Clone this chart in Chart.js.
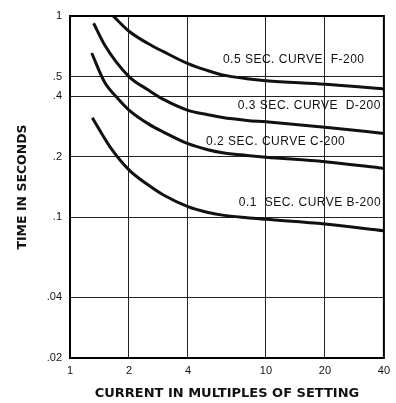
<!DOCTYPE html>
<html>
<head>
<meta charset="utf-8">
<script src="https://cdn.jsdelivr.net/npm/chart.js@4.4.1/dist/chart.umd.min.js"></script>
<style>
  html, body { margin: 0; padding: 0; background: #fff; }
  #wrap { width: 396px; height: 403px; }
</style>
</head>
<body>
<div id="wrap"><canvas id="curves" width="396" height="403"></canvas></div>
<script>
// Values (current in multiples of setting vs time in seconds)
const currentF = [1.66, 2, 2.5, 3, 4, 5, 6, 8, 10, 20, 40];
const timeF = [1.0, 0.84, 0.73, 0.665, 0.58, 0.537, 0.51, 0.488, 0.477, 0.458, 0.434];

const currentD = [1.32, 1.5, 2, 2.5, 3, 4, 5, 6, 8, 10, 20, 40];
const timeD = [0.92, 0.72, 0.5, 0.43, 0.385, 0.34, 0.324, 0.313, 0.303, 0.298, 0.28, 0.261];

const currentC = [1.29, 1.5, 1.75, 2, 2.5, 3, 4, 5, 6, 8, 10, 20, 40];
const timeC = [0.655, 0.47, 0.39, 0.341, 0.292, 0.265, 0.232, 0.217, 0.209, 0.203, 0.199, 0.189, 0.175];

const currentB = [1.3, 1.45, 1.6, 2, 2.5, 3, 4, 5, 6, 8, 10, 20, 40];
const timeB = [0.312, 0.261, 0.224, 0.172, 0.145, 0.129, 0.113, 0.106, 0.1025, 0.0995, 0.0977, 0.0926, 0.0858];

const curveLabels = ['0.5 SEC. CURVE  F-200', '0.3 SEC. CURVE  D-200', '0.2 SEC. CURVE C-200', '0.1  SEC. CURVE B-200'];

const xTicks = [1, 2, 4, 10, 20, 40];
const xTickLabels = ['1', '2', '4', '10', '20', '40'];
const yTicks = [0.02, 0.04, 0.1, 0.2, 0.4, 0.5, 1];
const yTickLabels = ['.02', '.04', '.1', '.2', '.4', '.5', '1'];

function toPoints(xs, ys) {
    return xs.map((x, i) => ({ x: x, y: ys[i] }));
}

function curve(label, xs, ys) {
    return {
        label: label,
        data: toPoints(xs, ys),
        borderColor: '#111',
        borderWidth: 3,
        pointRadius: 0,
        fill: false,
        cubicInterpolationMode: 'monotone'
    };
}

// Curve captions, anchored in data space (left edge, vertical middle)
const captionPlugin = {
    id: 'captions',
    afterDatasetsDraw(chart) {
        const ctx = chart.ctx;
        const xs = chart.scales.x, ys = chart.scales.y;
        const anchors = [[6.03, 0.605], [7.19, 0.357], [4.95, 0.237], [7.27, 0.118]];
        ctx.save();
        ctx.fillStyle = '#111';
        ctx.font = "12px 'Liberation Sans', Arial, sans-serif";
        ctx.letterSpacing = '0.5px';
        ctx.textAlign = 'left';
        ctx.textBaseline = 'middle';
        curveLabels.forEach((t, i) => {
            ctx.fillText(t, xs.getPixelForValue(anchors[i][0]), ys.getPixelForValue(anchors[i][1]));
        });
        ctx.restore();
    }
};

// white page + heavy frame round the plot area
const framePlugin = {
    id: 'frame',
    beforeDraw(chart) {
        const ctx = chart.ctx;
        ctx.save();
        ctx.fillStyle = '#fff';
        ctx.fillRect(0, 0, chart.width, chart.height);
        ctx.restore();
    },
    afterDraw(chart) {
        const a = chart.chartArea;
        const ctx = chart.ctx;
        ctx.save();
        ctx.strokeStyle = '#000';
        ctx.lineWidth = 2;
        ctx.strokeRect(a.left, a.top, a.right - a.left, a.bottom - a.top);
        ctx.restore();
    }
};

const tickFont = { family: "'Liberation Sans', Arial, sans-serif", size: 11 };

new Chart(document.getElementById('curves'), {
    type: 'line',
    data: {
        datasets: [
            curve('F-200', currentF, timeF),
            curve('D-200', currentD, timeD),
            curve('C-200', currentC, timeC),
            curve('B-200', currentB, timeB)
        ]
    },
    options: {
        responsive: false,
        animation: false,
        devicePixelRatio: 1,
        layout: { padding: { left: 0, top: 16, right: 10, bottom: 0 } },
        plugins: { legend: { display: false }, tooltip: { enabled: false } },
        scales: {
            x: {
                type: 'logarithmic',
                min: 1,
                max: 40,
                afterFit: s => { s.height = 45; },
                afterBuildTicks: s => { s.ticks = xTicks.map(v => ({ value: v })); },
                ticks: {
                    color: '#111',
                    font: tickFont,
                    padding: 6,
                    autoSkip: false,
                    maxRotation: 0,
                    callback: (v) => xTickLabels[xTicks.indexOf(v)]
                },
                grid: { color: '#222', lineWidth: 1, drawTicks: false },
                border: { color: '#000', width: 2 },
                title: {
                    display: true,
                    text: 'CURRENT IN MULTIPLES OF SETTING',
                    color: '#111',
                    font: { family: "'DejaVu Sans', sans-serif", size: 13, weight: 'bold' },
                    padding: { top: 0, bottom: 2 }
                }
            },
            y: {
                type: 'logarithmic',
                min: 0.02,
                max: 1,
                afterFit: s => { s.width = 70; },
                afterBuildTicks: s => { s.ticks = yTicks.map(v => ({ value: v })); },
                ticks: {
                    color: '#111',
                    font: tickFont,
                    padding: 8,
                    autoSkip: false,
                    callback: (v) => yTickLabels[yTicks.indexOf(v)]
                },
                grid: { color: '#222', lineWidth: 1, drawTicks: false },
                border: { color: '#000', width: 2 },
                title: {
                    display: true,
                    text: 'TIME IN SECONDS',
                    color: '#111',
                    font: { family: "'DejaVu Sans', sans-serif", size: 12.5, weight: 'bold' },
                    padding: { top: 15, bottom: 0 }
                }
            }
        }
    },
    plugins: [framePlugin, captionPlugin]
});
</script>
</body>
</html>
